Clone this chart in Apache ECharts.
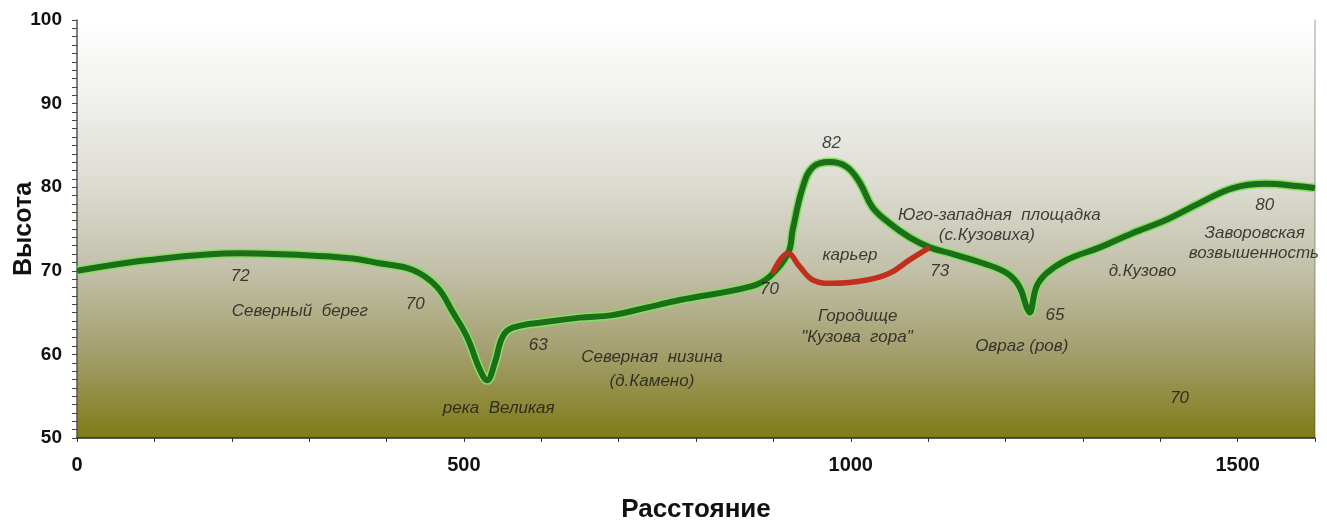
<!DOCTYPE html>
<html><head><meta charset="utf-8">
<script src="https://cdn.jsdelivr.net/npm/echarts@6.0.0/dist/echarts.min.js"></script>
<style>html,body{margin:0;padding:0;background:#fff}#c{width:1327px;height:525px}</style>
</head><body><div id="c"></div>
<script>
// Elevation profile (distance, height)
const profileX = [0, 94, 211, 288, 353, 391, 434, 465, 486, 504, 521, 530, 540, 550, 563, 607, 650, 692, 736, 779, 870, 895, 919, 925, 938, 951, 973, 995, 1012, 1028, 1050, 1076, 1102, 1128, 1171, 1202, 1218, 1227, 1231, 1240, 1253, 1279, 1322, 1364, 1408, 1451, 1494, 1537, 1580, 1600];
const profileY = [70.0, 71.3, 72.1, 71.9, 71.5, 70.9, 70.1, 68.1, 65.0, 62.1, 58.1, 56.9, 59.0, 62.1, 63.2, 63.9, 64.4, 64.7, 65.6, 66.5, 68.1, 69.3, 72.1, 74.9, 80.0, 82.4, 83.0, 82.4, 80.5, 77.6, 75.7, 74.0, 72.8, 72.1, 70.9, 69.7, 68.1, 65.7, 65.0, 68.1, 69.7, 71.3, 72.8, 74.5, 76.1, 78.1, 79.9, 80.4, 80.1, 79.9];
// Quarry (карьер) surface
const quarryX = [899, 919, 934, 951, 977, 1021, 1050, 1076, 1102];
const quarryY = [69.7, 72.1, 70.5, 68.9, 68.5, 68.9, 69.7, 71.3, 72.8];
// Annotations
const noteText = ['72', 'Северный  берег', '70', '63', 'река  Великая', 'Северная  низина', '(д.Камено)', '82', '70', 'карьер', '73', 'Городище', '"Кузова  гора"', 'Юго-западная  площадка', '(с.Кузовиха)', 'Овраг (ров)', '65', 'д.Кузово', '80', 'Заворовская', 'возвышенность', '70'];
const noteX = [211, 288, 437, 596, 545, 743, 743, 975, 895, 999, 1115, 1009, 1008, 1192, 1176, 1221, 1264, 1377, 1535, 1522, 1521, 1425];
const noteY = [69.4, 65.2, 66.0, 61.1, 53.5, 59.6, 56.8, 85.3, 67.8, 71.8, 70.0, 64.6, 62.1, 76.7, 74.2, 61.0, 64.7, 70.0, 77.8, 74.5, 72.1, 54.8];
const xTickLabels = [0, 500, 1000, 1500];

const chart = echarts.init(document.getElementById('c'));
const toPairs = (xs, ys) => xs.map((x, i) => [x, ys[i]]);
const profile = toPairs(profileX, profileY);
const quarry = toPairs(quarryX, quarryY);
const notes = noteX.map((x, i) => ({ value: [x, noteY[i]], name: noteText[i] }));

chart.setOption({
  animation: false,
  grid: {
    left: 77, right: 12, top: 20, bottom: 87,
    containLabel: false, outerBoundsMode: 'none',
    show: true, borderWidth: 0,
    backgroundColor: new echarts.graphic.LinearGradient(0, 0, 0, 1, [
      { offset: 0, color: '#ffffff' },
      { offset: 0.2, color: '#efefec' },
      { offset: 0.4, color: '#dcdbd1' },
      { offset: 0.6, color: '#c2c0a8' },
      { offset: 0.8, color: '#a29e6c' },
      { offset: 1, color: '#7f7b16' }
    ])
  },
  xAxis: {
    type: 'value', min: 0, max: 1600, interval: 100,
    name: 'Расстояние', nameLocation: 'middle', nameGap: 59, nameMoveOverlap: false,
    nameTextStyle: { fontFamily: 'Liberation Sans', fontWeight: 'bold', fontSize: 26, color: '#111' },
    axisLine: { show: true, lineStyle: { color: '#2a2a2a', width: 1.5 } },
    axisTick: { show: true, length: 4, lineStyle: { color: '#333' } },
    splitLine: { show: false },
    axisLabel: {
      margin: 17, fontFamily: 'Liberation Sans', fontWeight: 'bold', fontSize: 20, color: '#111',
      formatter: v => xTickLabels.includes(v) ? String(v) : ''
    }
  },
  yAxis: [{
    type: 'value', min: 50, max: 100, interval: 10,
    name: 'Высота', nameLocation: 'middle', nameGap: 40, nameRotate: 90, nameMoveOverlap: false,
    nameTextStyle: { fontFamily: 'Liberation Sans', fontWeight: 'bold', fontSize: 25, color: '#111' },
    axisLine: { show: true, lineStyle: { color: '#555', width: 1.5 } },
    axisTick: { show: true, length: 5, lineStyle: { color: '#444' } },
    minorTick: { show: true, splitNumber: 10, length: 5, lineStyle: { color: '#444' } },
    splitLine: { show: false },
    axisLabel: { margin: 15, fontFamily: 'Liberation Sans', fontWeight: 'bold', fontSize: 19, color: '#111' }
  }, {
    type: 'value', min: 50, max: 100, position: 'right',
    axisLine: { show: true, lineStyle: { color: 'rgba(70,70,40,0.35)', width: 1.5 } },
    axisTick: { show: false }, axisLabel: { show: false }, splitLine: { show: false }
  }],
  series: [
    {
      type: 'line', data: profile, smooth: 0.4, symbol: 'none', z: 2,
      lineStyle: { color: '#86e062', width: 9 }
    },
    {
      type: 'line', data: profile, smooth: 0.4, symbol: 'none', z: 3,
      lineStyle: { color: '#1b6f18', width: 6 }
    },
    {
      type: 'line', data: quarry, smooth: 0.4, symbol: 'none', z: 4,
      lineStyle: { color: '#c0301c', width: 5.5 }
    },
    {
      type: 'scatter', data: notes, symbolSize: 0, z: 5,
      itemStyle: { color: 'rgba(0,0,0,0)' },
      label: {
        show: true, position: 'inside', formatter: p => p.name,
        fontFamily: 'Liberation Sans', fontStyle: 'italic', fontSize: 17, color: '#161616'
      }
    }
  ]
});
</script>
</body></html>
